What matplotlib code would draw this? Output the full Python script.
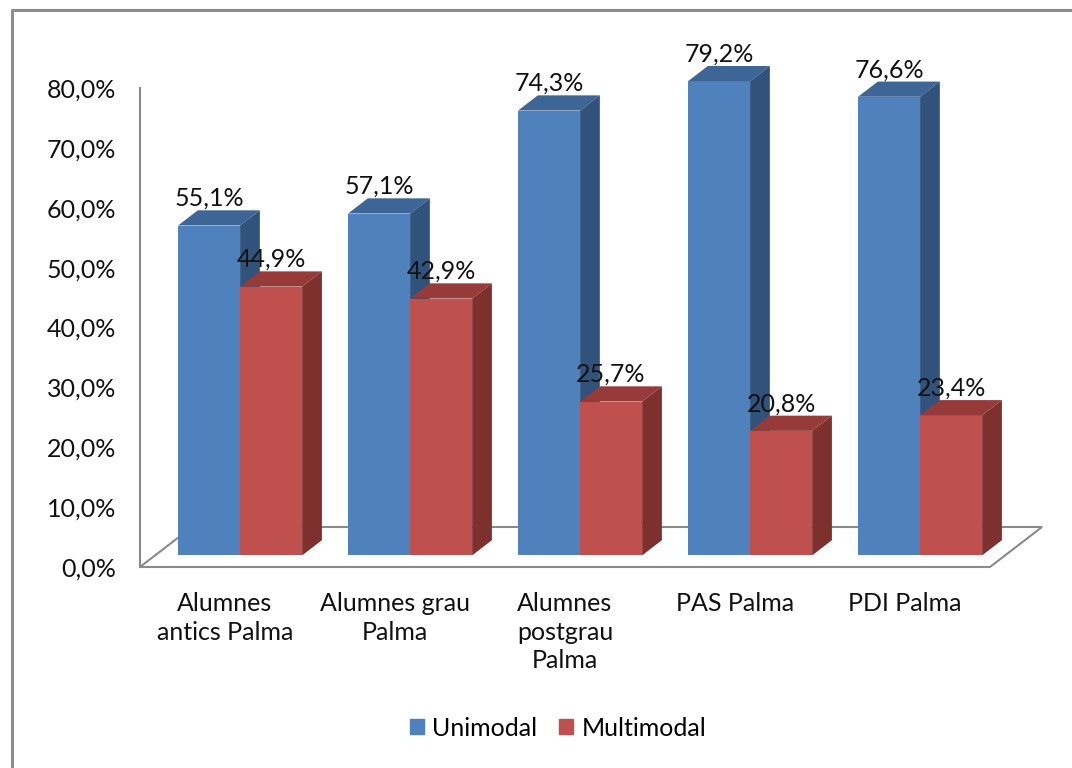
import matplotlib.pyplot as plt
from matplotlib.patches import Polygon
from matplotlib.lines import Line2D

plt.rcParams['font.family'] = ['Lato', 'DejaVu Sans']

categories = ['Alumnes\nantics Palma', 'Alumnes grau\nPalma', 'Alumnes\npostgrau\nPalma',
              'PAS Palma', 'PDI Palma']
unimodal = [55.1, 57.1, 74.3, 79.2, 76.6]
multimodal = [44.9, 42.9, 25.7, 20.8, 23.4]
yticks = [0, 10, 20, 30, 40, 50, 60, 70, 80]

front = {'Unimodal': '#4F81BD', 'Multimodal': '#C0504D'}
top = {'Unimodal': '#3D6595', 'Multimodal': '#963B39'}
side = {'Unimodal': '#31527B', 'Multimodal': '#7E302E'}

W, H = 1072, 768
fig = plt.figure(figsize=(W / 100, H / 100), dpi=100)
# axes box in pixels: x 140..1050, y 567 (0%) .. 60
ax = fig.add_axes([140 / W, (H - 567) / H, 910 / W, 507 / H])
ax.set_xlim(-0.5, 4.853)
ax.set_ylim(0, 84.68)

# depth of the floor and of the bars, in data units
DX, DY = 0.306, 6.68
f0, fd = 0.29, 0.38
ox, oy = f0 * DX, f0 * DY
ddx, ddy = fd * DX, fd * DY
bw = 0.365
fs = 18

floor = Polygon([(-0.5, 0), (4.5, 0), (4.5 + DX, DY), (-0.5 + DX, DY)], closed=True,
                facecolor='white', edgecolor='#8A8A8A', lw=1.5, zorder=1, clip_on=False)
ax.add_patch(floor)

z = 2
for i in range(len(categories)):
    for name, vals, left in (('Unimodal', unimodal, i + ox - bw), ('Multimodal', multimodal, i + ox)):
        v = vals[i]
        ax.bar(left, v, width=bw, bottom=oy, align='edge', color=front[name], zorder=z, clip_on=False)
        t = oy + v
        ax.add_patch(Polygon([(left, t), (left + bw, t), (left + bw + ddx, t + ddy), (left + ddx, t + ddy)],
                             closed=True, facecolor=top[name], edgecolor='none', zorder=z, clip_on=False))
        ax.add_patch(Polygon([(left + bw, oy), (left + bw + ddx, oy + ddy), (left + bw + ddx, t + ddy),
                              (left + bw, t)],
                             closed=True, facecolor=side[name], edgecolor='none', zorder=z, clip_on=False))
        ax.text(left + bw / 2, t + ddy + 0.75, f'{v:.1f}%'.replace('.', ','), ha='center',
                va='baseline', fontsize=fs, color='#111111', zorder=50)
        z += 1

for s in ['top', 'right', 'bottom']:
    ax.spines[s].set_visible(False)
ax.spines['left'].set_bounds(0, 80)
ax.spines['left'].set_color('#8A8A8A')
ax.spines['left'].set_linewidth(1.5)

ax.set_yticks(yticks)
ax.set_yticklabels([f'{y:.1f}%'.replace('.', ',') for y in yticks], fontsize=fs, color='#111111')
ax.set_xticks(range(len(categories)))
ax.set_xticklabels(categories, fontsize=fs, color='#111111', linespacing=1.3)
ax.tick_params(axis='y', length=0, pad=17)
ax.tick_params(axis='x', length=0, pad=18)
ax.patch.set_visible(False)

handles = [plt.Rectangle((0, 0), 1, 1, color=front['Unimodal']),
           plt.Rectangle((0, 0), 1, 1, color=front['Multimodal'])]
fig.legend(handles, ['Unimodal', 'Multimodal'], loc='center', bbox_to_anchor=(558 / W, 1 - 728 / H),
           ncol=2, frameon=False, fontsize=fs, handlelength=0.55, handleheight=0.55,
           handletextpad=0.35, columnspacing=0.85)

# chart frame (only left and top edges are inside the picture)
fig.add_artist(Line2D([12 / W, 12 / W, 1], [0, 1 - 10 / H, 1 - 10 / H], transform=fig.transFigure,
                      color='#8C8C8C', lw=2.2))

fig.savefig('out.png', dpi=100)
